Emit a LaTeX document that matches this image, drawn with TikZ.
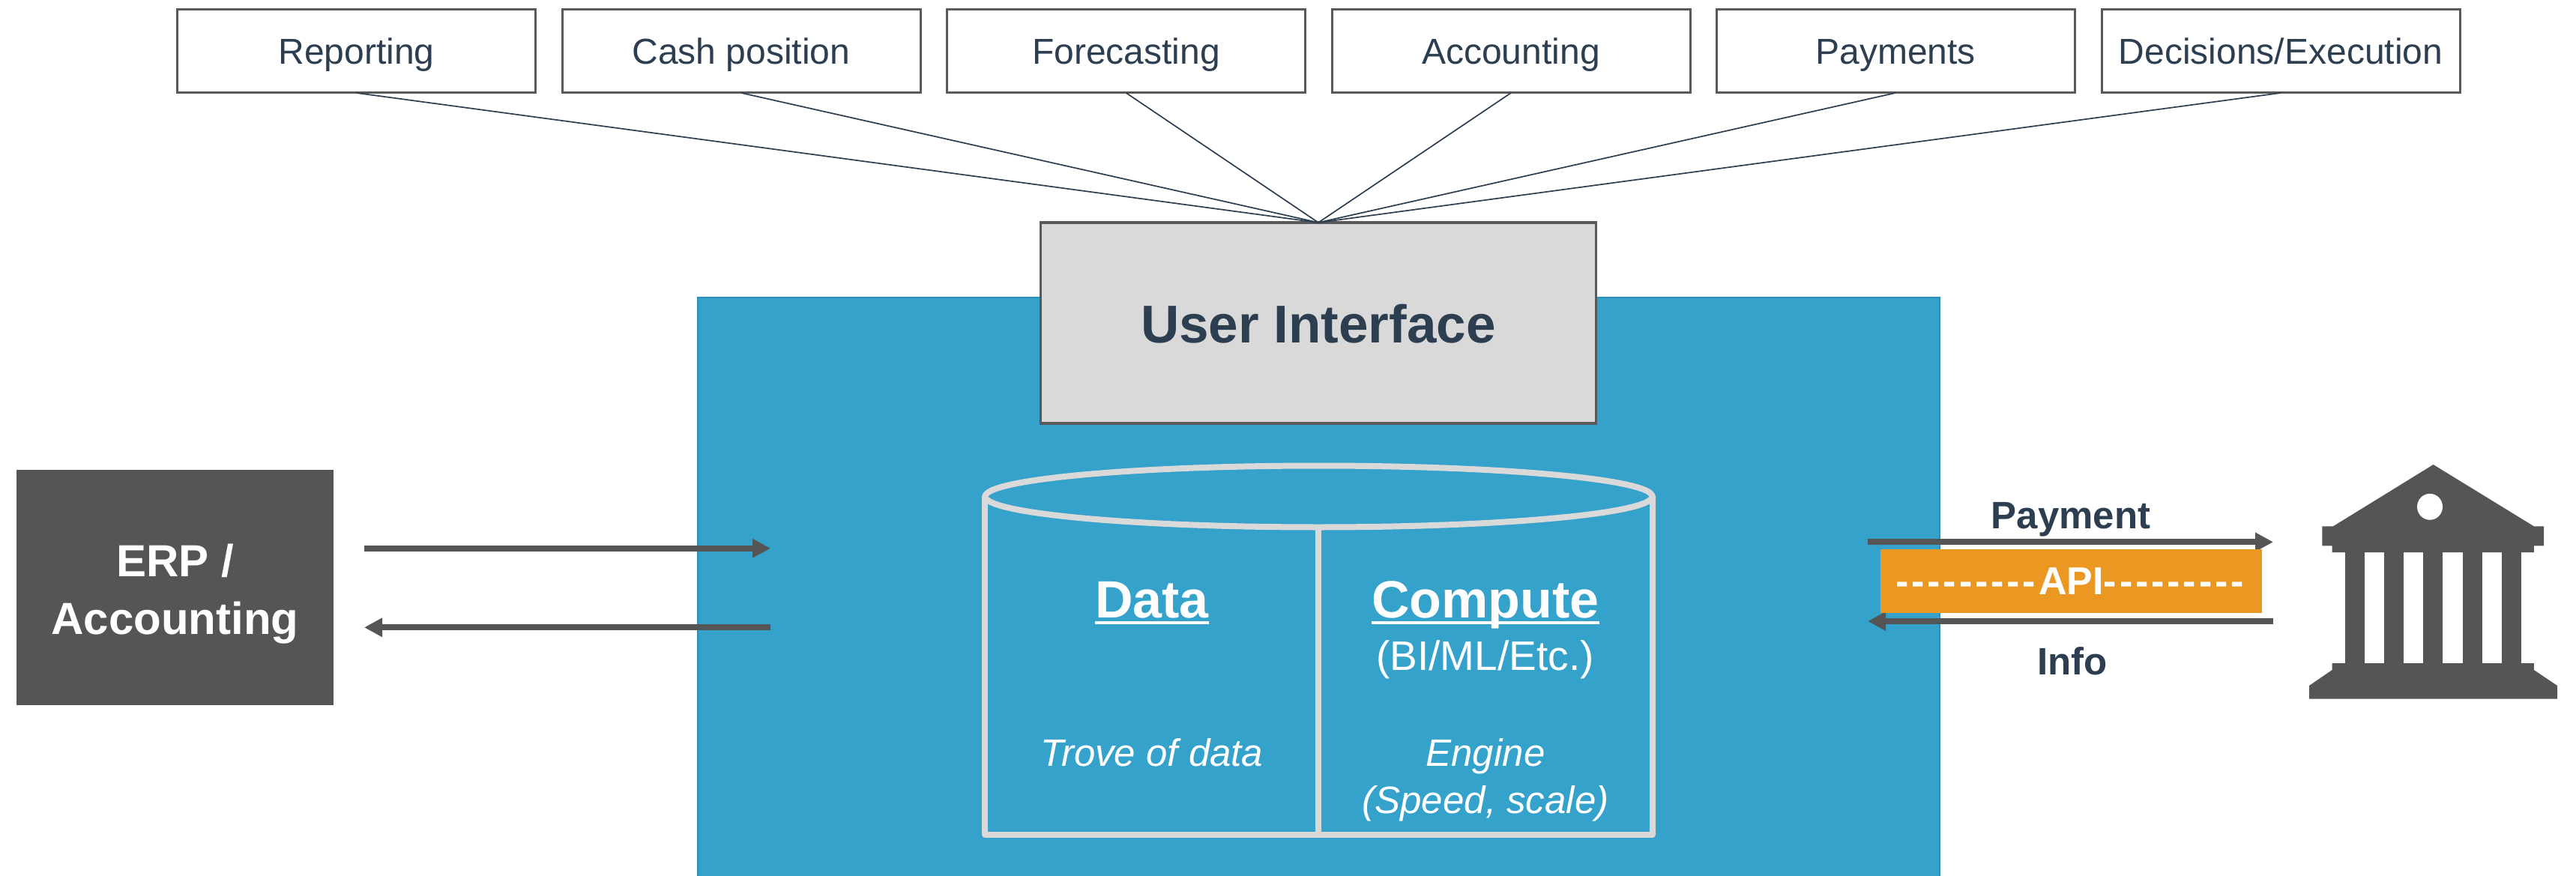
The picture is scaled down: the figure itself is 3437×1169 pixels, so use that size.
\documentclass[tikz,border=0pt]{standalone}
\usepackage{fontspec}
\setmainfont{Liberation Sans}
\usetikzlibrary{arrows.meta}
\definecolor{bluebg}{HTML}{35A2CC}
\definecolor{blueedge}{HTML}{2F8FB5}
\definecolor{greyfill}{HTML}{D9D9D9}
\definecolor{darkbox}{HTML}{555555}
\definecolor{edgegrey}{HTML}{595959}
\definecolor{inktext}{HTML}{2C3E50}
\definecolor{apiorange}{HTML}{EB9822}
\newcommand{\fsz}[1]{\fontsize{#1}{#1}\selectfont}
\newcommand{\ulbold}[1]{\setbox0=\hbox{#1}\rlap{\rule[-8pt]{\wd0}{4pt}}\box0}
\newcommand{\dsh}{-\kern3.9pt}
\newcommand{\dshs}{\dsh\dsh\dsh\dsh\dsh\dsh\dsh\dsh\dsh}
\tikzset{
  x=1pt,y=-1pt,
  topbox/.style={draw=edgegrey,line width=3pt,fill=white,text=inktext,font=\fsz{48},
    minimum width=478pt,minimum height=111pt,anchor=north west,inner sep=0pt,outer sep=0pt,
    text height=35pt,text depth=0pt},
  fan/.style={draw=inktext,line width=1.7pt},
  uibox/.style={draw=edgegrey,line width=3.5pt,fill=greyfill,text=inktext,font=\bfseries\fsz{71},
    minimum width=741pt,minimum height=268pt,anchor=north west,inner sep=0pt,outer sep=0pt,
    text height=53pt,text depth=0pt},
  erpbox/.style={fill=darkbox,text=white,font=\bfseries\fsz{60},align=center,
    minimum width=423pt,minimum height=314pt,anchor=north west,inner sep=0pt,outer sep=0pt},
  flow/.style={draw=darkbox,line width=8pt,-{Triangle[length=24pt,width=24pt]}},
  apibox/.style={fill=apiorange,text=white,font=\bfseries\fsz{52},
    minimum width=509pt,minimum height=85pt,anchor=north west,inner sep=0pt,outer sep=0pt,
    text height=35pt,text depth=0pt},
  cyl/.style={draw=greyfill,line width=8pt,line join=round,line cap=round},
  label/.style={anchor=base,inner sep=0pt,outer sep=0pt},
  head/.style={label,text=white,font=\bfseries\fsz{70}},
  sub/.style={label,text=white,font=\fsz{55}},
  note/.style={label,text=white,font=\itshape\fsz{51}},
  side/.style={label,text=inktext,font=\bfseries\fsz{51}},
}
\begin{document}
\begin{tikzpicture}
\useasboundingbox (0,0) rectangle (3437,1169);
\fill[white] (0,0) rectangle (3437,1169);
% panel
\draw[fill=bluebg,draw=blueedge,line width=2pt] (931,397) -- (2588,397) -- (2588,1170) -- (931,1170) -- cycle;
% top boxes
\node[topbox] (rep) at (236.5,13) {Reporting};
\node[topbox] (cash) at (750,13) {Cash position};
\node[topbox] (fore) at (1263.5,13) {Forecasting};
\node[topbox] (acc) at (1777,13) {Accounting};
\node[topbox] (pay) at (2290,13) {Payments};
\node[topbox] (dec) at (2804,13) {Decisions/Execution};
% user interface
\node[uibox] (ui) at (1388.5,297) {User Interface};
\foreach \b in {rep,cash,fore,acc,pay,dec}{\draw[fan] (\b.south) -- (ui.north);}
% ERP
\node[erpbox] (erp) at (22,627) {\rule{0pt}{60pt}ERP /\\[17pt]Accounting};
\coordinate (la) at (486,731.7); \coordinate (lb) at (1028,731.7);
\coordinate (lc) at (1028,837.3); \coordinate (ld) at (486,837.3);
\draw[flow] (la) -- (lb);
\draw[flow] (lc) -- (ld);
% API arrows
\coordinate (ra) at (2492,723.3); \coordinate (rb) at (3033,723.3);
\coordinate (rc) at (3033,829); \coordinate (rd) at (2492,829);
\draw[flow] (ra) -- (rb);
\draw[flow] (rc) -- (rd);
\node[apibox] (api) at (2509,733) {\dshs API\dshs};
\node[side] (payt) at (2763,705) {Payment};
\node[side] (info) at (2765,900) {Info};
% cylinder
\draw[cyl] (1314,662.5) -- (1314,1113.6) -- (2205,1113.6) -- (2205,662.5);
\draw[cyl,line cap=butt] (1759,707) -- (1759,1113.6);
\draw[cyl] (1759.5,662.5) ellipse [x radius=445,y radius=41];
\node[head] (data) at (1537,824.5) {\ulbold{Data}};
\node[head] (comp) at (1982,824.5) {\ulbold{Compute}};
\node[sub] (bi) at (1981.5,894.6) {(BI/ML/Etc.)};
\node[note] (trove) at (1537,1022) {Trove of data};
\node[note] (eng) at (1982,1022) {Engine};
\node[note] (spd) at (1982,1085.6) {(Speed, scale)};
% bank
\fill[darkbox] (3246.6,620) -- (3380.8,702.3) -- (3394,702.3) -- (3394,728.3) -- (3380.8,728.3) -- (3380.8,737)
  -- (3111.6,737) -- (3111.6,728.3) -- (3098.4,728.3) -- (3098.4,702.3) -- (3113,702.3) -- cycle;
\fill[white] (3242,676.3) ellipse [x radius=17,y radius=17.5];
\foreach \cx in {3128.8,3181,3233.3,3285.6,3337.8}{\fill[darkbox] (\cx,736) rectangle ++(26,150);}
\fill[darkbox] (3111.6,885) -- (3380.8,885) -- (3380.8,894) -- (3412,915) -- (3412,932.7) -- (3081,932.7) -- (3081,915) -- (3111.6,894) -- cycle;
\end{tikzpicture}
\end{document}
